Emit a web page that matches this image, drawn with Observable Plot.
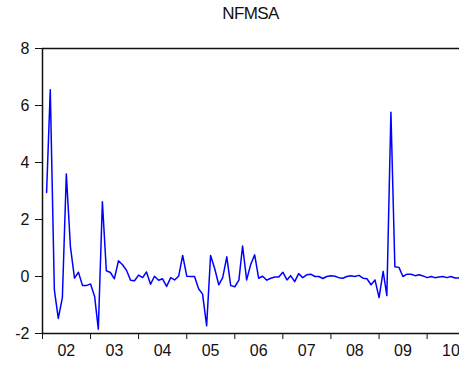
<!DOCTYPE html>
<html><head><meta charset="utf-8">
<script src="https://cdn.jsdelivr.net/npm/d3@7"></script>
<script src="https://cdn.jsdelivr.net/npm/@observablehq/plot@0.6"></script>
<style>
body{margin:0;background:#fff;font-family:"Liberation Sans",Arial,sans-serif;}
#title{height:28px;line-height:28px;font-size:17px;text-align:center;padding-left:42px;width:417px;letter-spacing:-0.6px;color:#111;}
</style></head><body>
<div id="title">NFMSA</div>
<div id="chart"></div>
<script>
// Monthly observations starting 2002M02
const values = [
  2.95, 6.55, -0.47, -1.47, -0.74, 3.6, 1.05, -0.06, 0.15, -0.32, -0.32, -0.26,
  -0.7, -1.85, 2.62, 0.2, 0.14, -0.08, 0.55, 0.41, 0.22, -0.13, -0.15, 0.05,
  -0.04, 0.16, -0.27, 0.01, -0.13, -0.08, -0.35, -0.04, -0.12, 0.02, 0.74, 0.01,
  0.0, 0.0, -0.43, -0.62, -1.73, 0.74, 0.28, -0.29, -0.04, 0.69, -0.32, -0.36,
  -0.13, 1.07, -0.12, 0.41, 0.76, -0.06, 0.01, -0.13, -0.06, -0.02, -0.02, 0.15,
  -0.12, 0.03, -0.18, 0.1, -0.04, 0.06, 0.08, 0.0, 0.0, -0.07, 0.0, 0.03,
  0.01, -0.04, -0.06, 0.0, 0.03, 0.0, 0.04, -0.06, -0.08, -0.29, -0.12, -0.74,
  0.18, -0.67, 5.76, 0.34, 0.32, 0.0, 0.08, 0.08, 0.03, 0.06, 0.02, -0.04,
  0.0, -0.04, -0.02, 0.0, -0.04, 0.0, -0.05, -0.05
];
const yearLabels = ["02","03","04","05","06","07","08","09","10"];
const yTicks = [-2, 0, 2, 4, 6, 8];

const dates = d3.utcMonth.range(new Date(Date.UTC(2002,1,1)), new Date(Date.UTC(2002,1+values.length,1)));
const data = values.map((v,i)=>({date:dates[i], value:v}));
const yearStarts = yearLabels.map(y => new Date(Date.UTC(2000 + +y, 0, 1)));
const yearMids = yearLabels.map(y => new Date(Date.UTC(2000 + +y, 6, 1)));
const x0 = new Date(Date.UTC(2002,0,1)), x1 = new Date(Date.UTC(2010,8,4));

const chart = Plot.plot({
  width: 459, height: 337,
  marginTop: 20, marginBottom: 32, marginLeft: 42, marginRight: 0,
  style: {fontFamily: "Liberation Sans, Arial, sans-serif", fontSize: "16px", color: "#111", background: "#fff", overflow: "visible"},
  x: {type: "utc", domain: [x0, x1]},
  y: {domain: [-2, 8]},
  marks: [
    Plot.axisY({ticks: yTicks, tickSize: 7, tickPadding: 6, label: null, tickFormat: d => String(d)}),
    Plot.axisX({ticks: yearStarts, tickSize: 6, tickFormat: () => "", label: null}),
    Plot.axisX({ticks: yearMids, tickSize: 0, tickPadding: 11, label: null,
                tickFormat: d => yearLabels[d.getUTCFullYear() - 2002]}),
    Plot.ruleY([8], {stroke: "#111", strokeWidth: 1.5}),
    Plot.ruleY([-2], {stroke: "#111", strokeWidth: 1.5}),
    Plot.ruleX([x0], {stroke: "#111", strokeWidth: 1.5}),
    Plot.lineY(data, {x: "date", y: "value", stroke: "#0000ff", strokeWidth: 1.5})
  ]
});
document.getElementById("chart").appendChild(chart);
</script>
</body></html>
